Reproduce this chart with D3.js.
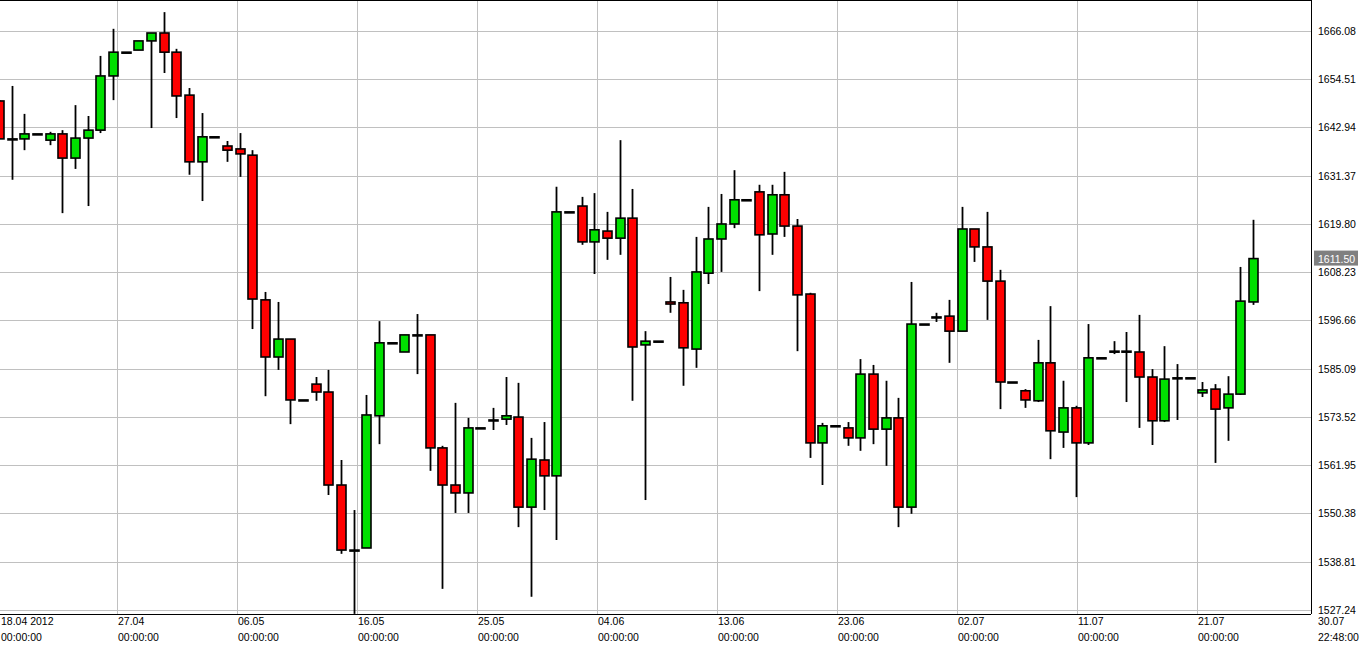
<!DOCTYPE html>
<html>
<head>
<meta charset="utf-8">
<script src="https://cdn.jsdelivr.net/npm/d3@7"></script>
<style>
  body { margin: 0; background: #fff; }
  text { font-family: "Liberation Sans", Arial, sans-serif; font-size: 10.5px; fill: #000; }
</style>
</head>
<body>
<div id="chart"></div>
<script>
// candles, one per day: open, high, low, close
var opens  = [1649.3,1640.2,1640.2,1641.4,1639.9,1641.4,1635.6,1640.4,1642.3,1655.3,1661.0,1661.5,1663.7,1665.6,1661.0,1650.7,1634.7,1640.7,1638.5,1637.8,
              1636.3,1601.6,1587.9,1592.2,1577.6,1581.4,1579.5,1557.2,1541.6,1542.1,1573.8,1591.3,1589.1,1593.2,1593.2,1566.1,1557.2,1555.3,1570.9,1572.8,
              1573.0,1573.5,1551.9,1563.2,1559.4,1622.7,1624.1,1615.5,1618.1,1616.4,1621.2,1590.8,1591.7,1601.1,1600.9,1589.8,1608.0,1616.2,1619.8,1625.6,
              1627.5,1617.4,1626.8,1619.3,1603.0,1567.3,1571.4,1570.9,1568.5,1583.8,1570.6,1573.3,1551.9,1595.8,1597.5,1597.7,1594.1,1618.6,1614.3,1606.1,
              1581.9,1579.8,1577.4,1586.5,1569.9,1575.7,1567.3,1587.7,1589.3,1589.3,1589.1,1583.1,1572.6,1582.9,1582.9,1579.3,1580.2,1575.7,1579.0,1601.1];
var highs  = [1649.5,1652.9,1646.2,1641.4,1641.9,1642.3,1648.3,1645.7,1660.1,1666.6,1661.0,1663.7,1665.6,1670.6,1661.8,1652.4,1646.4,1640.7,1639.7,1641.6,
              1637.5,1603.5,1601.1,1592.2,1577.6,1583.1,1584.8,1563.2,1551.2,1578.8,1596.5,1591.3,1593.2,1598.2,1593.2,1566.6,1576.9,1573.3,1570.9,1575.7,
              1583.1,1581.7,1568.5,1572.3,1628.7,1622.7,1626.3,1627.2,1622.7,1639.9,1628.2,1594.1,1591.7,1607.1,1604.0,1616.7,1623.9,1627.0,1632.7,1625.6,
              1629.2,1629.2,1632.3,1621.0,1603.3,1572.1,1571.4,1572.3,1587.4,1586.0,1582.2,1578.1,1605.9,1595.8,1598.5,1601.6,1623.9,1618.6,1622.7,1608.8,
              1581.9,1580.2,1592.0,1600.1,1582.2,1576.2,1595.8,1587.7,1591.7,1593.9,1598.0,1585.0,1590.5,1586.2,1582.9,1581.9,1581.4,1583.3,1609.5,1620.8];
var lows   = [1640.2,1630.4,1637.5,1641.4,1638.7,1622.4,1633.0,1624.1,1641.6,1649.5,1661.0,1661.5,1642.8,1656.0,1645.2,1631.6,1625.3,1640.7,1634.7,1631.1,
              1594.6,1578.5,1584.8,1571.8,1577.6,1577.4,1554.8,1540.7,1526.3,1542.1,1567.0,1591.3,1589.1,1583.8,1560.6,1532.3,1550.5,1550.5,1570.9,1570.4,
              1571.6,1547.1,1530.4,1551.2,1544.0,1622.7,1614.8,1607.8,1611.2,1612.4,1577.4,1553.6,1591.7,1598.5,1581.0,1585.3,1605.4,1608.3,1618.8,1625.6,
              1603.7,1612.4,1616.7,1589.3,1563.7,1557.2,1571.4,1566.6,1565.4,1567.0,1561.8,1547.1,1550.3,1595.8,1596.3,1586.5,1594.1,1610.7,1596.8,1575.4,
              1581.9,1575.7,1577.1,1563.4,1566.1,1554.3,1566.8,1587.7,1588.6,1577.1,1570.9,1566.8,1572.3,1572.8,1582.9,1578.3,1562.5,1567.8,1578.8,1600.4];
var closes = [1640.2,1640.2,1641.4,1641.4,1641.4,1635.6,1640.4,1642.3,1655.3,1661.0,1661.0,1663.7,1665.6,1661.0,1650.5,1634.7,1640.7,1640.7,1637.5,1636.6,
              1601.8,1587.9,1592.2,1577.6,1577.6,1579.5,1557.2,1541.6,1541.6,1574.0,1591.3,1591.3,1593.2,1593.2,1566.1,1557.2,1555.3,1570.9,1570.9,1572.8,
              1573.8,1551.9,1563.4,1559.4,1622.7,1622.7,1615.5,1618.4,1616.4,1621.2,1590.3,1591.7,1591.7,1600.6,1590.1,1608.3,1616.2,1619.8,1625.6,1625.6,
              1617.2,1626.8,1619.3,1602.8,1567.3,1571.4,1571.4,1568.5,1583.8,1570.6,1573.3,1551.9,1595.8,1595.8,1597.5,1594.1,1618.6,1614.3,1606.1,1581.9,
              1581.9,1577.6,1586.5,1570.2,1575.7,1567.3,1587.7,1587.7,1589.3,1589.3,1583.1,1572.6,1582.6,1582.9,1582.9,1580.0,1575.4,1579.0,1601.3,1611.5];

var priceTicks = [1527.24,1538.81,1550.38,1561.95,1573.52,1585.09,1596.66,1608.23,1619.80,1631.37,1642.94,1654.51,1666.08];
var dateTicks  = [0.08,9.31,18.78,28.26,37.73,47.2,56.67,66.14,75.62,85.09,94.56,104.03];
var dateLabels = ["18.04 2012","27.04","06.05","16.05","25.05","04.06","13.06","23.06","02.07","11.07","21.07","30.07"];
var timeLabels = ["00:00:00","00:00:00","00:00:00","00:00:00","00:00:00","00:00:00","00:00:00","00:00:00","00:00:00","00:00:00","00:00:00","22:48:00"];
var lastPrice = 1611.50;

var svgWidth = 1361, svgHeight = 647;
var plotW = 1311, plotH = 614;

var svg = d3.select("#chart").append("svg")
  .attr("width", svgWidth)
  .attr("height", svgHeight);

var x = d3.scaleLinear().domain([0, 99]).range([-1, 1253]);
var y = d3.scaleLinear().domain([1526.27, 1673.51]).range([plotH, 0]);

// grid
svg.append("g").selectAll("line.h")
  .data(priceTicks).enter().append("line")
  .attr("x1", 0).attr("x2", plotW)
  .attr("y1", d => Math.round(y(d)) + 0.5).attr("y2", d => Math.round(y(d)) + 0.5)
  .attr("stroke", "#c0c0c0");
svg.append("g").selectAll("line.v")
  .data(dateTicks.slice(1, 11)).enter().append("line")
  .attr("x1", d => Math.round(x(d)) + 0.5).attr("x2", d => Math.round(x(d)) + 0.5)
  .attr("y1", 0).attr("y2", plotH)
  .attr("stroke", "#c0c0c0");

// frame
svg.append("line").attr("x1", 0).attr("x2", plotW).attr("y1", 0.5).attr("y2", 0.5).attr("stroke", "#000");
svg.append("line").attr("x1", 0).attr("x2", plotW).attr("y1", plotH + 0.5).attr("y2", plotH + 0.5).attr("stroke", "#000");
svg.append("line").attr("x1", plotW + 0.5).attr("x2", plotW + 0.5).attr("y1", 0).attr("y2", plotH).attr("stroke", "#000");

// candles
var idx = d3.range(opens.length);
var cg = svg.append("g");
cg.selectAll("line.wick").data(idx).enter().append("line")
  .attr("x1", i => Math.round(x(i)) + 0.5).attr("x2", i => Math.round(x(i)) + 0.5)
  .attr("y1", i => y(highs[i])).attr("y2", i => y(lows[i]))
  .attr("stroke", "#000").attr("stroke-width", 1.8);
cg.selectAll("rect.body").data(idx).enter().append("rect")
  .attr("x", i => Math.round(x(i)) - 4)
  .attr("y", i => y(Math.max(opens[i], closes[i])))
  .attr("width", 9)
  .attr("height", i => Math.max(1, y(Math.min(opens[i], closes[i])) - y(Math.max(opens[i], closes[i]))))
  .attr("fill", i => closes[i] >= opens[i] ? "#00e000" : "#ff0000")
  .attr("stroke", "#000").attr("stroke-width", 1.6);

// price axis
svg.append("g").selectAll("text").data(priceTicks).enter().append("text")
  .attr("x", plotW + 7).attr("y", d => y(d) + 4)
  .text(d => d.toFixed(2));

var lp = svg.append("g").attr("transform", `translate(${plotW + 3}, ${y(lastPrice)})`);
lp.append("rect").attr("x", 0).attr("y", -8).attr("width", 44).attr("height", 15).attr("fill", "#808080");
lp.append("text").attr("x", 4).attr("y", 4).style("fill", "#fff").text(lastPrice.toFixed(2));

// date axis
svg.append("g").selectAll("text").data(dateTicks).enter().append("text")
  .attr("x", d => Math.max(0, Math.round(x(d)) + 1)).attr("y", 625)
  .text((d, i) => dateLabels[i]);
svg.append("g").selectAll("text").data(dateTicks).enter().append("text")
  .attr("x", d => Math.max(0, Math.round(x(d)) + 1)).attr("y", 641)
  .text((d, i) => timeLabels[i]);
</script>
</body>
</html>
